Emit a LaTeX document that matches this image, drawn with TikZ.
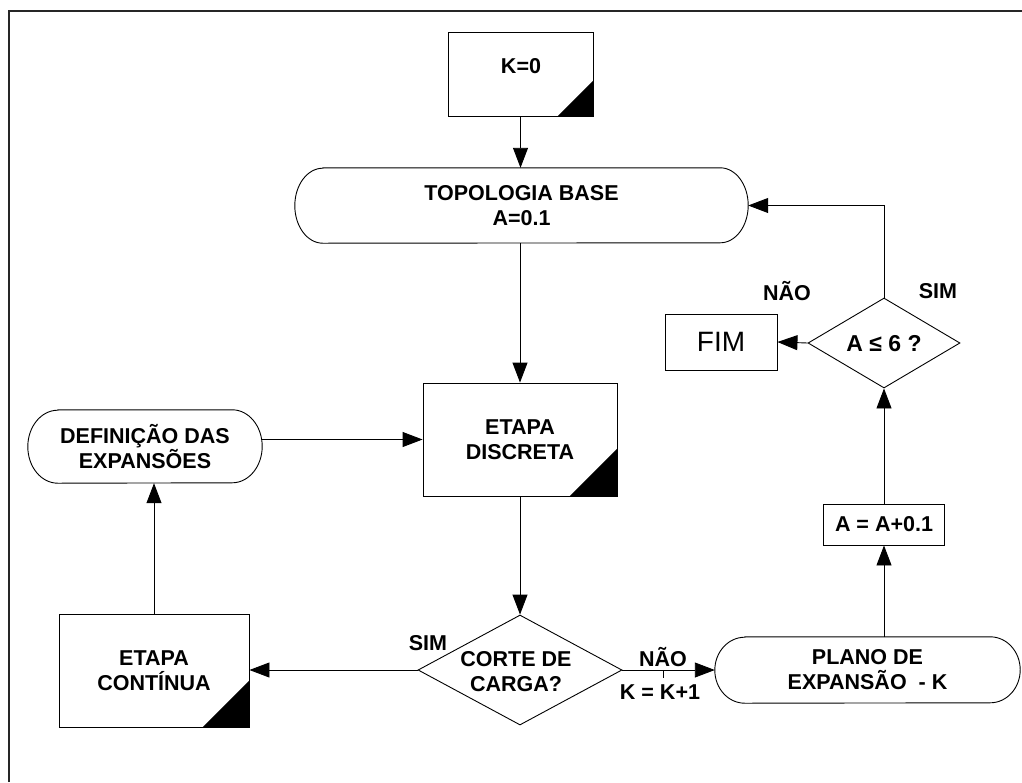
\documentclass[tikz,border=0pt]{standalone}
\usepackage{fontspec}
\setmainfont{Liberation Sans}
\usetikzlibrary{arrows.meta,shapes.geometric}
\tikzset{
  ln/.style={line width=0.9pt,draw=black},
  arr/.style={ln,-{Triangle[length=20pt,width=15pt]}},
  boxshape/.style={ln,rectangle,inner sep=0pt},
  txt/.style={font=\fontsize{21.5}{25}\selectfont\bfseries,align=center,inner sep=0pt},
  lbl/.style={font=\fontsize{21.5}{25}\selectfont\bfseries,inner sep=0pt},
  dia/.style={ln,diamond,inner sep=0pt},
  stadnode/.style={rectangle,inner sep=0pt,draw=none}
}
\newcommand{\stadiumpath}[3]{\draw[ln] ([xshift=#2pt]#1.north west) -- ([xshift=-#2pt]#1.north east) arc[start angle=90,end angle=-90,x radius=#2pt,y radius=#3pt] -- ([xshift=#2pt]#1.south west) arc[start angle=270,end angle=90,x radius=#2pt,y radius=#3pt] -- cycle;}
\newcommand{\cornertri}[2]{\fill[black] ([xshift=-#2pt]#1.south east) -- (#1.south east) -- ([yshift=#2pt]#1.south east) -- cycle;}
\begin{document}
\begin{tikzpicture}[x=1pt,y=-1pt]
\useasboundingbox (0,0) rectangle (1022,782);
\fill[white] (0,0) rectangle (1022,782);
% frame
\draw[line width=2pt,black!85] (9,782) -- (9,11) -- (1022,11);

% nodes
\node[boxshape,minimum width=145pt,minimum height=84pt] (k0) at (520.5,74) {};
\node[txt] (k0t) at (521,66) {K=0};
\cornertri{k0}{36}

\node[stadnode,minimum width=453pt,minimum height=75pt,txt] (topo) at (521.5,205.5) {TOPOLOGIA BASE\\A=0.1};
\stadiumpath{topo}{28}{37.5}

\node[boxshape,minimum width=194pt,minimum height=113pt,txt] (disc) at (520,439.5) {ETAPA\\DISCRETA};
\cornertri{disc}{48}

\node[stadnode,minimum width=234pt,minimum height=73pt,txt] (defn) at (145,446.5) {DEFINIÇÃO DAS\\EXPANSÕES};
\stadiumpath{defn}{30}{36.5}

\node[dia,minimum width=204pt,minimum height=110pt,aspect=1.85] (corte) at (520,670) {};
\node[txt] (cortet) at (516,672) {CORTE DE\\CARGA?};

\node[boxshape,minimum width=190pt,minimum height=113pt,txt] (cont) at (154,670.5) {ETAPA\\CONTÍNUA};
\cornertri{cont}{47}

\node[stadnode,minimum width=305pt,minimum height=66pt,txt] (plano) at (867.5,670) {PLANO DE\\EXPANSÃO\ \ - K};
\stadiumpath{plano}{30}{33}

\node[boxshape,minimum width=121pt,minimum height=41pt,txt] (abox) at (884,524.5) {A = A+0.1};

\node[dia,minimum width=152pt,minimum height=90pt,aspect=1.69] (a6) at (884,343) {};
\node[txt,font=\fontsize{23}{25}\selectfont\bfseries] (a6t) at (884,344) {A ≤ 6 ?};

\node[boxshape,minimum width=112pt,minimum height=56pt,font=\fontsize{28}{30}\selectfont] (fim) at (721,342) {FIM};

% labels
\node[lbl] (l1) at (787,291) {NÃO};
\node[lbl] (l2) at (938,291) {SIM};
\node[lbl] (l3) at (428,643) {SIM};
\node[lbl] (l4) at (663,657) {NÃO};
\node[lbl] (l5) at (660,692) {K = K+1};

% connectors
\draw[arr] (k0.south) -- (k0.south |- topo.north);
\draw[arr] (disc.north |- topo.south) -- (disc.north);
\draw[arr] (defn.east |- disc.west) -- (disc.west);
\draw[arr] (disc.south) -- (corte.north);
\draw[arr] (corte.west) -- (cont.east |- corte.west);
\draw[arr] (cont.north) -- (cont.north |- defn.south);
\draw[arr] (corte.east) -- (plano.west);
\coordinate (tick) at (663,670);
\draw[ln] (tick) -- ++(0,8);
\draw[arr] (abox.south |- plano.north) -- (abox.south);
\draw[arr] (abox.north) -- (a6.south);
\draw[arr] (a6.west) -- (fim.east);
\draw[arr] (a6.north) |- (topo.east);
\end{tikzpicture}
\end{document}
